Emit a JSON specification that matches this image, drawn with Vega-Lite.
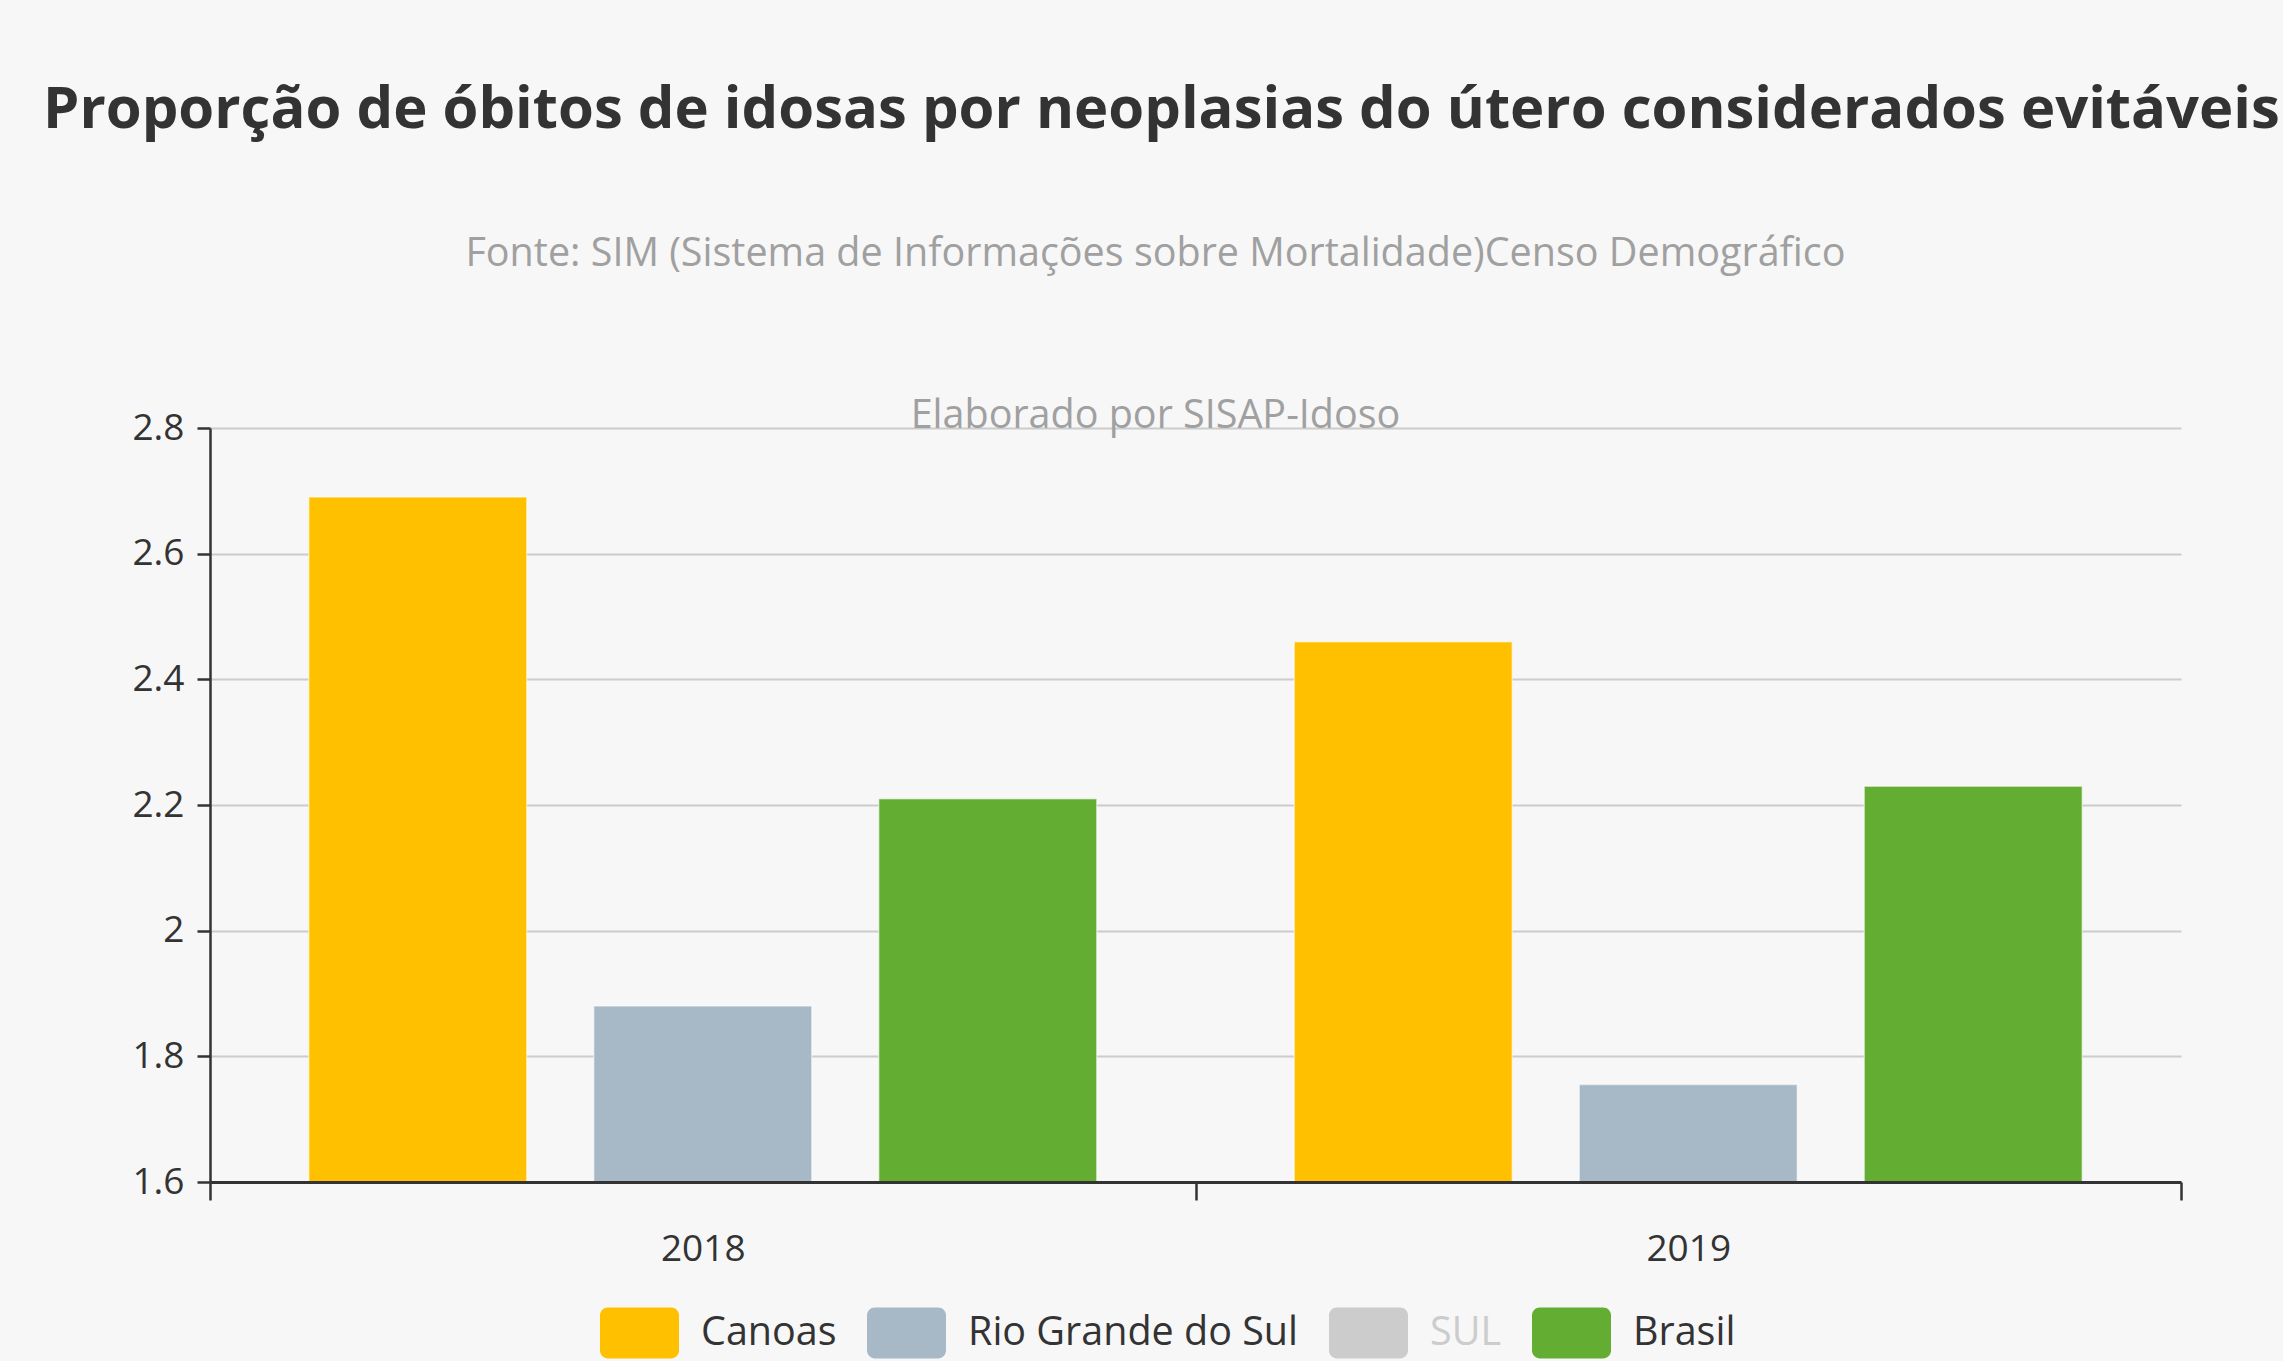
{
  "$schema": "https://vega.github.io/schema/vega-lite/v6.json",
  "width": 1971,
  "height": 754,
  "autosize": {"type": "none"},
  "padding": {"left": 210, "top": 428, "right": 102, "bottom": 179},
  "background": "#f7f7f7",
  "title": {
    "text": "Proporção de óbitos de idosas por neoplasias do útero considerados evitáveis",
    "anchor": "start",
    "frame": "group",
    "dx": -167,
    "offset": 93,
    "font": "Open Sans",
    "fontSize": 58,
    "fontWeight": "bold",
    "color": "#333333"
  },
  "data": {
    "values": [
      {"ano": "2018", "serie": "Canoas", "valor": 2.69},
      {"ano": "2018", "serie": "Rio Grande do Sul", "valor": 1.88},
      {"ano": "2018", "serie": "Brasil", "valor": 2.21},
      {"ano": "2019", "serie": "Canoas", "valor": 2.46},
      {"ano": "2019", "serie": "Rio Grande do Sul", "valor": 1.755},
      {"ano": "2019", "serie": "Brasil", "valor": 2.23}
    ]
  },
  "mark": {"type": "bar", "stroke": "#ffffff", "strokeWidth": 1.5, "strokeOpacity": 0.5},
  "encoding": {
    "x": {
      "field": "ano",
      "type": "nominal",
      "scale": {"paddingInner": 0, "paddingOuter": 0},
      "axis": {
        "title": null,
        "labelAngle": 0,
        "tickBand": "extent",
        "labelFont": "Open Sans",
        "labelFontSize": 37,
        "labelColor": "#333333",
        "tickSize": 18,
        "tickWidth": 2.5,
        "tickColor": "#333333",
        "labelPadding": 31,
        "domainColor": "#333333",
        "domainWidth": 3,
        "grid": false,
        "zindex": 1
      }
    },
    "xOffset": {
      "field": "serie",
      "type": "nominal",
      "scale": {"domain": ["Canoas", "Rio Grande do Sul", "Brasil"], "paddingInner": 0.235, "paddingOuter": 0.3465}
    },
    "y": {
      "field": "valor",
      "type": "quantitative",
      "scale": {"domain": [1.6, 2.8], "nice": false, "zero": false},
      "axis": {
        "values": [1.6, 1.8, 2, 2.2, 2.4, 2.6, 2.8],
        "format": ".2~f",
        "labelOverlap": false,
        "labelFont": "Open Sans",
        "labelFontSize": 37,
        "labelColor": "#333333",
        "labelPadding": 13,
        "tickSize": 13,
        "tickColor": "#333333",
        "tickWidth": 2.5,
        "domainColor": "#333333",
        "domainWidth": 2.5,
        "grid": true,
        "gridColor": "#cccccc",
        "gridWidth": 2,
        "title": ["Fonte: SIM (Sistema de Informações sobre Mortalidade)Censo Demográfico", "Elaborado por SISAP-Idoso"],
        "titleAngle": 0,
        "titleX": 945,
        "titleY": -163,
        "titleAlign": "center",
        "titleBaseline": "alphabetic",
        "titleFont": "Open Sans",
        "titleFontSize": 39.5,
        "titleFontWeight": "normal",
        "titleColor": "#a0a0a0",
        "titleLineHeight": 162
      }
    },
    "y2": {"datum": 1.6},
    "color": {
      "field": "serie",
      "type": "nominal",
      "scale": {
        "domain": ["Canoas", "Rio Grande do Sul", "SUL", "Brasil"],
        "range": ["#ffc000", "#a7b8c7", "#cccccc", "#64ad33"]
      },
      "legend": {
        "orient": "none",
        "legendX": 390,
        "legendY": 865,
        "direction": "horizontal",
        "title": null,
        "padding": 0,
        "symbolType": "M-0.8,-0.646 H0.8 A0.2,0.2 0 0 1 1,-0.446 V0.446 A0.2,0.2 0 0 1 0.8,0.646 H-0.8 A0.2,0.2 0 0 1 -1,0.446 V-0.446 A0.2,0.2 0 0 1 -0.8,-0.646 Z",
        "symbolSize": 6241,
        "symbolStrokeWidth": 0,
        "symbolOpacity": 1,
        "labelFont": "Open Sans",
        "labelFontSize": 39.5,
        "labelColor": {"expr": "datum.label === 'SUL' ? '#cccccc' : '#333333'"},
        "labelLimit": 1000,
        "labelOffset": 22,
        "columnPadding": 30
      }
    }
  },
  "config": {"view": {"stroke": null}, "font": "Open Sans"}
}
